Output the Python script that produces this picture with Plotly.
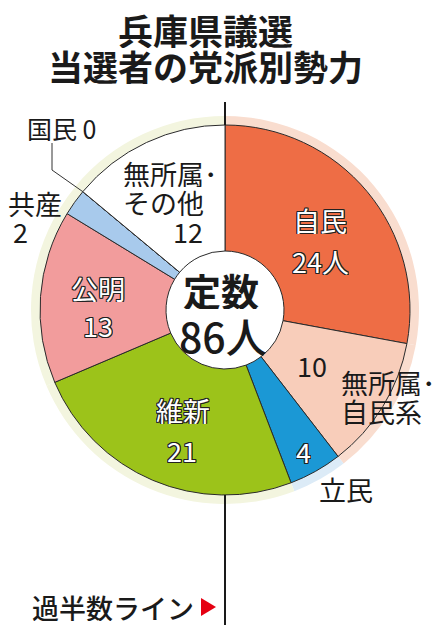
import math
import plotly.graph_objects as go

# 兵庫県議選 当選者の党派別勢力
parties = ["自民", "無所属・自民系", "立民", "維新", "公明", "共産", "国民", "無所属・その他"]
seats = [24, 10, 4, 21, 13, 2, 0, 12]
total_seats = 86

slice_colors = ["#EE6D45", "#F8CDBA", "#1B98D5", "#9CC31A", "#F29C9C", "#A8CAEC", "#A8CAEC", "#FFFFFF"]
halo_colors = ["#F9DDCF", "#F9DDCF", "#DCEBF7", "#F3F5DF", "#F3F5DF", "#F3F5DF", "#F3F5DF", "#F3F5DF"]

W, H = 440, 639
OFF = 8                    # page margin the browser puts round the figure
CX, CY = 225, 310          # pie centre in pixels
R_PIE, R_HALO, R_HOLE = 185, 194, 59

FONT = "Noto Sans CJK JP"
OUTLINE = ("1px 1px 0 #222, -1px -1px 0 #222, 1px -1px 0 #222, -1px 1px 0 #222, "
           "0 1px 0 #222, 0 -1px 0 #222, 1px 0 0 #222, -1px 0 0 #222")


def px(x):
    return (x - OFF) / W


def py(y):
    return 1 - (y - OFF) / H


def domain(r):
    return dict(x=[px(CX - r), px(CX + r)], y=[py(CY + r), py(CY - r)])


fig = go.Figure()

# pale halo round the pie
fig.add_trace(go.Pie(
    labels=parties, values=seats, sort=False, direction="clockwise",
    domain=domain(R_HALO), hole=R_PIE / R_HALO,
    marker=dict(colors=halo_colors, line=dict(width=0)),
    textinfo="none", hoverinfo="skip", showlegend=False,
))

# main pie
fig.add_trace(go.Pie(
    labels=parties, values=seats, sort=False, direction="clockwise",
    domain=domain(R_PIE), hole=R_HOLE / R_PIE,
    marker=dict(colors=slice_colors, line=dict(color="#2a2a2a", width=1)),
    textinfo="none", hoverinfo="label+value", showlegend=False,
))


def label(text, x, y, size=27, white=False, weight="normal", align="center", xanchor="center"):
    font = dict(family=FONT, size=size, color="white" if white else "#1a1a1a", weight=weight)
    if white:
        font["shadow"] = OUTLINE
    fig.add_annotation(text=text, x=px(x), y=py(y), xref="paper", yref="paper",
                       showarrow=False, font=font, align=align,
                       height=round(size * 1.05), borderpad=0,
                       xanchor=xanchor, yanchor="middle")


# title
label("兵庫県議選", 205, 29, size=35, weight="bold")
label("当選者の党派別勢力", 205, 66, size=35, weight="bold")

# slice labels
label(parties[0], 320, 220, white=True)
label(f"{seats[0]}人", 320, 261, white=True)
label(str(seats[1]), 312, 365)
label("無所属･", 340, 382, xanchor="left")
label("自民系", 340, 411, xanchor="left")
label(str(seats[2]), 303, 451, white=True)
label(parties[2], 318, 489, xanchor="left")
label(parties[3], 183, 410, white=True)
label(str(seats[3]), 182, 450, white=True)
label(parties[4], 98, 288, white=True)
label(str(seats[4]), 98, 325, white=True)
label(parties[5], 7, 203, xanchor="left")
label(str(seats[5]), 12, 231, xanchor="left")
label(f"{parties[6]} {seats[6]}", 26, 128, size=25, xanchor="left")
label("無所属･", 122, 173, xanchor="left")
label("その他", 122, 202, xanchor="left")
label(str(seats[7]), 204, 231, xanchor="right")

# centre
label("定数", 221, 289, size=38, weight="bold")
label(f"{total_seats}人", 223, 334, size=41, weight=500)

# leader line for 国民 0 to the slice boundary on the pie edge
ang = math.radians(360 * sum(seats[:6]) / sum(seats))
ex, ey = CX + R_PIE * math.sin(ang), CY - R_PIE * math.cos(ang)
fig.add_shape(type="path", xref="paper", yref="paper",
              path=f"M {px(52)} {py(143)} L {px(52)} {py(170)} L {px(ex)} {py(ey)}",
              line=dict(color="#333", width=1))

# majority line (43 seats) - vertical through the centre
fig.add_shape(type="line", xref="paper", yref="paper",
              x0=px(CX), x1=px(CX), y0=py(102), y1=py(CY - R_PIE),
              line=dict(color="#1a1a1a", width=2))
fig.add_shape(type="line", xref="paper", yref="paper",
              x0=px(CX), x1=px(CX), y0=py(CY + R_PIE), y1=py(625),
              line=dict(color="#1a1a1a", width=2))
label("過半数ライン", 31, 607, size=27, weight=500, xanchor="left")
fig.add_shape(type="path", xref="paper", yref="paper",
              path=f"M {px(201)} {py(598)} L {px(216)} {py(607)} L {px(201)} {py(616)} Z",
              fillcolor="#E50012", line=dict(width=0))

fig.update_layout(
    width=W, height=H,
    margin=dict(l=0, r=0, t=0, b=0),
    paper_bgcolor="white", plot_bgcolor="white",
)

fig.write_html("out.html")
